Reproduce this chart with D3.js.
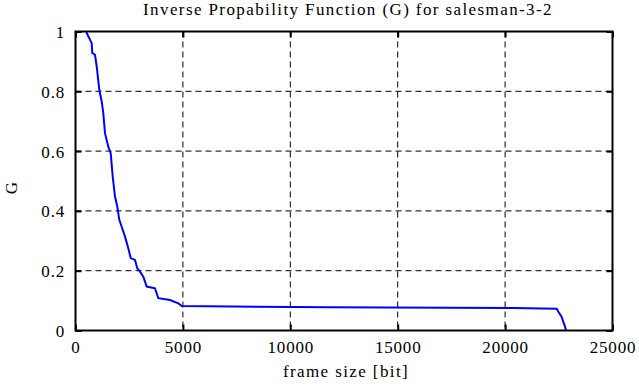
<!DOCTYPE html>
<html>
<head>
<meta charset="utf-8">
<script src="https://cdn.jsdelivr.net/npm/d3@7"></script>
<style>
  body { margin: 0; background: #fff; }
  text { font-family: "Liberation Serif", "DejaVu Serif", serif; font-size: 17px; fill: #000; }
  .lbl { letter-spacing: 1.4px; }
  .num { letter-spacing: 0.8px; }
</style>
</head>
<body>
<svg width="639" height="387"></svg>
<script>
// frame size [bit] vs G
let frameSize = [489, 754, 782, 908, 987, 1108, 1220, 1294, 1373, 1527, 1639, 1732, 1839, 1946, 2039,
                 2151, 2304, 2458, 2570, 2770, 2877, 3003, 3156, 3315, 3701, 3855, 4400, 4786, 4944,
                 7300, 11800, 20400, 22400, 22480, 22630, 22710, 22790, 22830];
let gValues   = [1.0, 0.961, 0.928, 0.922, 0.883, 0.805, 0.766, 0.727, 0.660, 0.615, 0.593, 0.515, 0.448, 0.414, 0.370,
                 0.347, 0.314, 0.275, 0.242, 0.236, 0.208, 0.197, 0.180, 0.147, 0.141, 0.108, 0.102, 0.091, 0.082,
                 0.080, 0.078, 0.075, 0.073, 0.063, 0.046, 0.029, 0.013, 0.0];
let xTicks = [0, 5000, 10000, 15000, 20000, 25000];
let yTicks = [0, 0.2, 0.4, 0.6, 0.8, 1];

var pLeft = 75.5, pRight = 612.5, pTop = 31.5, pBottom = 330.5;
var svg = d3.select('svg');

var x = d3.scaleLinear().domain([0, 25000]).range([pLeft, pRight]);
var y = d3.scaleLinear().domain([0, 1]).range([pBottom, pTop]);

// grid
svg.selectAll("line.gx")
   .data(xTicks.slice(1, -1))
   .enter().append("line")
   .attr("x1", d => x(d)).attr("x2", d => x(d))
   .attr("y1", pTop).attr("y2", pBottom)
   .attr("stroke", "#000").attr("stroke-width", 1).attr("stroke-dasharray", "6,4");
svg.selectAll("line.gy")
   .data(yTicks.slice(1, -1))
   .enter().append("line")
   .attr("y1", d => y(d)).attr("y2", d => y(d))
   .attr("x1", pLeft).attr("x2", pRight)
   .attr("stroke", "#000").attr("stroke-width", 1).attr("stroke-dasharray", "6,4");

// inward ticks
function ticks(axis, tx, ty) {
  svg.append("g").attr("transform", `translate(${tx},${ty})`)
     .call(axis.tickSize(-6).tickFormat(""))
     .call(g => g.select(".domain").remove())
     .selectAll("line").attr("stroke-width", 2);
}
ticks(d3.axisBottom(x).tickValues(xTicks), 0, pBottom);
ticks(d3.axisTop(x).tickValues(xTicks), 0, pTop);
ticks(d3.axisLeft(y).tickValues(yTicks), pLeft, 0);
ticks(d3.axisRight(y).tickValues(yTicks), pRight, 0);

// tick labels
svg.selectAll("text.xl")
   .data(xTicks)
   .enter().append("text")
   .attr("class", "num")
   .attr("x", d => x(d) + 0.5).attr("y", 353)
   .attr("text-anchor", "middle")
   .text(d => d);
svg.selectAll("text.yl")
   .data(yTicks)
   .enter().append("text")
   .attr("class", "num")
   .attr("x", 65).attr("y", d => y(d) + 6.5)
   .attr("text-anchor", "end")
   .text(d => d);

// curve
var line = d3.line().x((d, i) => x(frameSize[i])).y(d => y(d));
svg.append("path")
   .attr("d", line(gValues))
   .attr("fill", "none").attr("stroke", "#0000ff").attr("stroke-width", 2);

// frame
svg.append("rect")
   .attr("x", pLeft).attr("y", pTop)
   .attr("width", pRight - pLeft).attr("height", pBottom - pTop)
   .attr("fill", "none").attr("stroke", "#000").attr("stroke-width", 2);

// titles
svg.append("text").attr("class", "lbl").attr("x", 348).attr("y", 15).attr("text-anchor", "middle")
   .text("Inverse Propability Function (G) for salesman-3-2");
svg.append("text").attr("class", "lbl").attr("x", 346).attr("y", 377).attr("text-anchor", "middle")
   .text("frame size [bit]");
svg.append("text").attr("transform", "translate(17,188) rotate(-90)").attr("text-anchor", "middle")
   .text("G");
</script>
</body>
</html>
